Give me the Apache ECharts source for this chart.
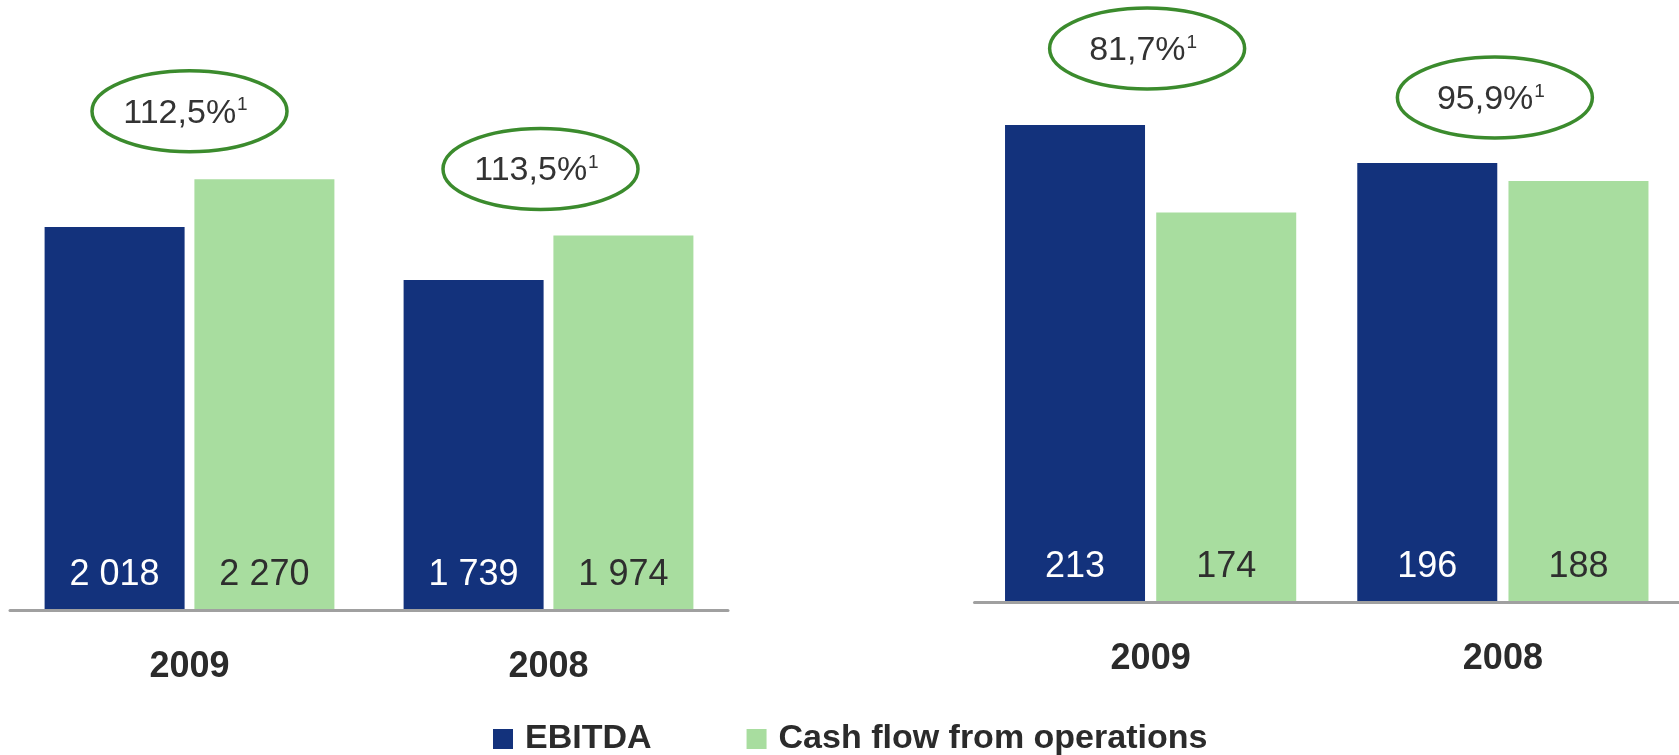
<!DOCTYPE html>
<html>
<head>
<meta charset="utf-8">
<script src="https://cdn.jsdelivr.net/npm/echarts@6/dist/echarts.min.js"></script>
<style>
  html, body { margin: 0; padding: 0; background: #ffffff; }
  #chart { width: 1679px; height: 755px; }
</style>
</head>
<body>
<div id="chart"></div>
<script>
// ---- Data ----
const categories = ['2009', '2008'];
const ebitdaLeft = [2018, 1739];
const cashFlowLeft = [2270, 1974];
const ratioLeft = ['112,5%', '113,5%'];
const ebitdaRight = [213, 196];
const cashFlowRight = [174, 188];
const ratioRight = ['81,7%', '95,9%'];
const footnoteMark = '1';
const seriesNames = ['EBITDA', 'Cash flow from operations'];

// ---- Style / layout ----
const BLUE = '#13327c';
const GREEN = '#a8dd9f';
const RING = '#3b8b2d';
const AXIS = '#a0a0a0';
const SANS = '"Liberation Sans", Arial, sans-serif';
// ellipse placement relative to category centre / tallest bar top: [dx, dy]
const ringOffsetLeft = [[0, 68], [-8, 66.5]];
const ringOffsetRight = [[-3.5, 76.5], [-8, 65.5]];

function fmt(v) { return String(v).replace(/\B(?=(\d{3})+(?!\d))/g, ' '); }

function barSeries(name, data, idx, color, labelColor, gap) {
  return {
    type: 'bar', name: name, data: data,
    xAxisIndex: idx, yAxisIndex: idx,
    barWidth: 140, barGap: gap,
    itemStyle: { color: color },
    label: {
      show: true, position: 'insideBottom', distance: 17,
      color: labelColor, fontFamily: SANS, fontSize: 36, lineHeight: 36,
      formatter: p => fmt(p.value)
    },
    emphasis: { disabled: true },
    animation: false
  };
}

function ringSeries(idx, a, b, labels, offsets) {
  const data = categories.map((c, i) => [i, Math.max(a[i], b[i])]);
  return {
    type: 'custom', xAxisIndex: idx, yAxisIndex: idx, data: data, silent: true,
    animation: false, z: 5,
    renderItem: function (params, api) {
      const i = params.dataIndex;
      const pt = api.coord([api.value(0), api.value(1)]);
      const cx = pt[0] + offsets[i][0];
      const cy = pt[1] - offsets[i][1];
      return {
        type: 'group',
        children: [
          { type: 'ellipse', shape: { cx: cx, cy: cy, rx: 97.5, ry: 40.5 },
            style: { fill: 'none', stroke: RING, lineWidth: 3.5 } },
          { type: 'text', x: cx - 4, y: cy + 2,
            style: {
              text: '{a|' + labels[i] + '}{s|' + footnoteMark + '}',
              x: 0, y: 0, align: 'center', verticalAlign: 'middle',
              rich: {
                a: { fontFamily: SANS, fontSize: 34, fill: '#333', lineHeight: 38 },
                s: { fontFamily: SANS, fontSize: 19, fill: '#333', lineHeight: 38, padding: [0, 0, 16, 1] }
              }
            } }
        ]
      };
    }
  };
}

const chart = echarts.init(document.getElementById('chart'), null, { renderer: 'canvas' });

const xAxisCommon = {
  type: 'category', data: categories,
  axisLine: { show: true, lineStyle: { color: AXIS, width: 3 } },
  axisTick: { show: false },
  axisLabel: { margin: 39, color: '#2b2b2b', fontFamily: SANS, fontWeight: 'bold', fontSize: 36, lineHeight: 36 },
  z: 10
};

chart.setOption({
  backgroundColor: '#ffffff',
  legend: {
    data: seriesNames,
    left: 493, top: 722, padding: 0,
    icon: 'rect', itemWidth: 20, itemHeight: 20, itemGap: 95,
    textStyle: { fontFamily: SANS, fontWeight: 'bold', fontSize: 34, lineHeight: 22, color: '#2b2b2b', padding: [0, 0, 0, 7] }
  },
  grid: [
    { left: 10, width: 718, top: 40.5, bottom: 144.5 },
    { left: 974.5, width: 712, top: 42, bottom: 152.5 }
  ],
  xAxis: [
    Object.assign({ gridIndex: 0 }, xAxisCommon),
    Object.assign({ gridIndex: 1 }, xAxisCommon)
  ],
  yAxis: [
    { gridIndex: 0, type: 'value', min: 0, max: 3000, show: false, splitLine: { show: false } },
    { gridIndex: 1, type: 'value', min: 0, max: 250, show: false, splitLine: { show: false } }
  ],
  series: [
    barSeries(seriesNames[0], ebitdaLeft, 0, BLUE, '#ffffff', '7%'),
    barSeries(seriesNames[1], cashFlowLeft, 0, GREEN, '#2e2e2e', '7%'),
    barSeries(seriesNames[0], ebitdaRight, 1, BLUE, '#ffffff', '8%'),
    barSeries(seriesNames[1], cashFlowRight, 1, GREEN, '#2e2e2e', '8%'),
    ringSeries(0, ebitdaLeft, cashFlowLeft, ratioLeft, ringOffsetLeft),
    ringSeries(1, ebitdaRight, cashFlowRight, ratioRight, ringOffsetRight)
  ]
});
</script>
</body>
</html>
